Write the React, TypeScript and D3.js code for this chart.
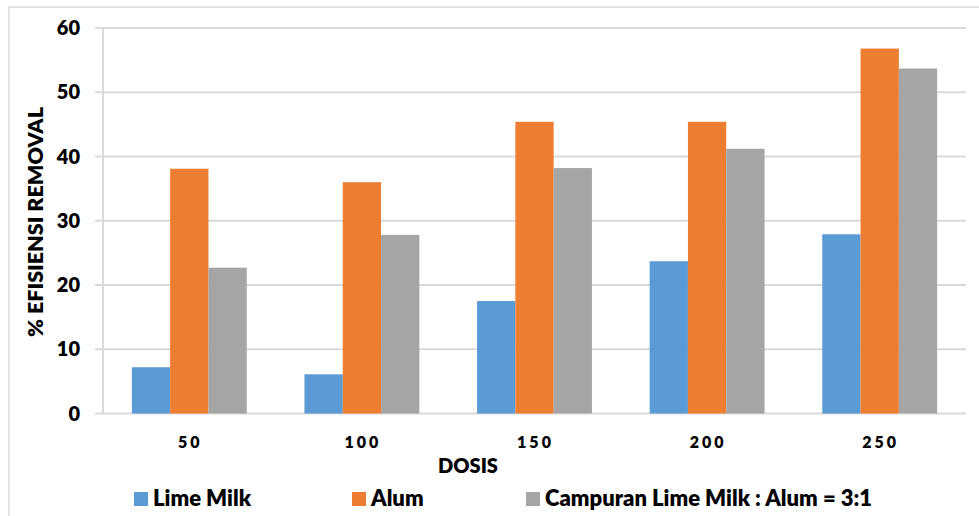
import React from "react";
import * as d3 from "d3";

const categories = ["50", "100", "150", "200", "250"];
const seriesNames = ["Lime Milk", "Alum", "Campuran Lime Milk : Alum = 3:1"];
const limeMilk = [7.2, 6.1, 17.5, 23.7, 27.9];
const alum = [38.1, 36.0, 45.4, 45.4, 56.8];
const campuran = [22.7, 27.8, 38.2, 41.2, 53.7];
const yTicks = [0, 10, 20, 30, 40, 50, 60];
const colors = ["#5B9BD5", "#ED7D31", "#A5A5A5"];

const W = 979;
const H = 516;
const FONT = "Lato, 'Open Sans', sans-serif";

export default function App() {
  const values = [limeMilk, alum, campuran];
  const left = 103;
  const right = 966;
  const top = 28;
  const bottom = 413.5;

  const x = d3.scaleBand<string>().domain(categories).range([left, right]).paddingInner(0).paddingOuter(0);
  const y = d3.scaleLinear().domain([0, 60]).range([bottom, top]);
  const barW = 38.3;
  const groupW = barW * 3;

  const legendX = [134, 352, 526];

  return (
    <svg
      width={W}
      height={H}
      style={{ position: "absolute", left: 0, top: 0, background: "#fff" }}
      fontFamily={FONT}
    >
      <rect x={9} y={7} width={W + 10} height={H + 10} fill="#fff" stroke="#d9d9d9" strokeWidth={1.5} />

      {/* gridlines with short tick stubs on the left */}
      {yTicks.map((t) => (
        <line key={t} x1={left - 8} x2={right} y1={y(t)} y2={y(t)} stroke="#d9d9d9" strokeWidth={2} />
      ))}
      <line x1={left} x2={left} y1={top} y2={bottom} stroke="#d9d9d9" strokeWidth={2} />

      {/* y tick labels */}
      {yTicks.map((t) => (
        <text key={t} x={80} y={y(t)} dy="0.36em" textAnchor="end" fontSize={20} fontWeight={800} fill="#000">
          {t}
        </text>
      ))}

      {/* bars */}
      {categories.map((c, ci) => {
        const cx = (x(c) as number) + x.bandwidth() / 2;
        return values.map((vals, si) => (
          <rect
            key={c + si}
            x={cx - groupW / 2 + si * barW}
            y={y(vals[ci])}
            width={barW}
            height={bottom - y(vals[ci])}
            fill={colors[si]}
          />
        ));
      })}

      {/* x tick labels */}
      {categories.map((c) => (
        <text
          key={c}
          x={(x(c) as number) + x.bandwidth() / 2 + 1}
          y={448}
          textAnchor="middle"
          fontSize={16}
          fontWeight={800}
          letterSpacing={3}
          fill="#000"
        >
          {c}
        </text>
      ))}

      {/* axis titles */}
      <text x={468} y={473} textAnchor="middle" fontSize={20} fontWeight={800} fill="#000">
        DOSIS
      </text>
      <text
        transform={`translate(43, 222) rotate(-90)`}
        textAnchor="middle"
        fontSize={21.5}
        fontWeight={800}
        fill="#000"
      >
        % EFISIENSI REMOVAL
      </text>

      {/* legend */}
      {seriesNames.map((name, i) => (
        <g key={name}>
          <rect x={legendX[i]} y={492} width={14} height={14} fill={colors[i]} />
          <text x={legendX[i] + 19} y={506} fontSize={22} fontWeight={800} fill="#000">
            {name}
          </text>
        </g>
      ))}
    </svg>
  );
}
